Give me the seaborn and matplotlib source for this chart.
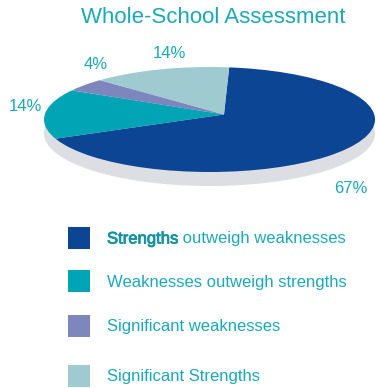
import matplotlib
matplotlib.use("Agg")
import matplotlib.pyplot as plt
import seaborn as sns
from matplotlib.patches import Rectangle, Ellipse
import matplotlib.patheffects as pe

# ---- data ----
categories = ["Strengths outweigh weaknesses", "Weaknesses outweigh strengths",
              "Significant weaknesses", "Significant Strengths"]
values = [67, 14, 4, 14]
pct_labels = ["67%", "14%", "4%", "14%"]
colors_hex = ["#0B4593", "#00A4B4", "#7E87BD", "#9FCBD0"]

sns.set_style("white")
plt.rcParams['font.family'] = ['Liberation Sans', 'DejaVu Sans']
palette = sns.color_palette(colors_hex)
text_col = "#1BA8B8"

W, H, DPI = 376, 388, 100
fig = plt.figure(figsize=(W / DPI, H / DPI), dpi=DPI)
fig.patch.set_facecolor("white")

# pie geometry in pixels (layout): ellipse centre/radii and apex
cx, cy, rx, ry = 209.5, 119.5, 165.5, 52.5
apex_px = (224, 114.5)
shadow_drop = 14

ax = fig.add_axes([0, 0, 1, 1])
ax.set_facecolor("none")

def px2data(px, py):
    return (px - cx) / rx, (cy - py) / ry

# shadow
ax.pie([1], colors=["#DCDEE3"], center=(0, -shadow_drop / ry), radius=1.0,
       wedgeprops=dict(linewidth=0))
# main pie: rays from the apex, clipped to the top ellipse
apex = px2data(*apex_px)
wedges, _ = ax.pie(values, colors=palette, startangle=88, counterclock=False,
                   center=apex, radius=3.0, wedgeprops=dict(linewidth=0))
top = Ellipse((0, 0), 2, 2, transform=ax.transData)
for w in wedges:
    w.set_clip_on(True)
    w.set_clip_path(top)

ax.set_aspect("auto")
ax.set_xlim(-cx / rx, (W - cx) / rx)
ax.set_ylim(-(H - cy) / ry, cy / ry)
ax.axis("off")

# percentage label positions (pixel layout, baseline)
label_pos = [(351, 193), (25, 111), (96, 69), (169, 58)]
for lab, (px, py) in zip(pct_labels, label_pos):
    x, y = px2data(px, py)
    ax.text(x, y, lab, ha="center", va="baseline", color=text_col, fontsize=12)

# title
fig.text(213.5 / W, 1 - 23 / H, "Whole-School Assessment", ha="center",
         va="baseline", color=text_col, fontsize=16)

# legend (manual layout)
row_centers = [238, 281, 326, 376]
sq = 22
for i, (cat, col, yc) in enumerate(zip(categories, palette, row_centers)):
    fig.add_artist(Rectangle((68 / W, 1 - (yc + sq / 2) / H), sq / W, sq / H,
                             transform=fig.transFigure, facecolor=col,
                             edgecolor="none"))
    by = 1 - (yc + 5.5) / H
    if i == 0:
        first, rest = cat.split(" ", 1)
        t1 = fig.text(107 / W, by, first, ha="left", va="baseline",
                      color="#1592A2", fontsize=12,
                      path_effects=[pe.withStroke(linewidth=0.6,
                                                  foreground="#1592A2")])
        fig.canvas.draw()
        bb = t1.get_window_extent(renderer=fig.canvas.get_renderer())
        fig.text(bb.x1 / W, by, " " + rest, ha="left", va="baseline",
                 color=text_col, fontsize=12)
    else:
        fig.text(107 / W, by, cat, ha="left", va="baseline",
                 color=text_col, fontsize=12)

fig.savefig("out.png", dpi=DPI, facecolor="white")
